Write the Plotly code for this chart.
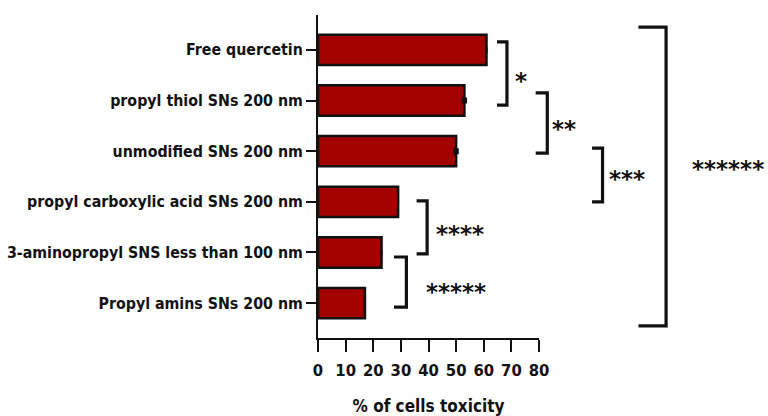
import plotly.graph_objects as go

# Treatments, top to bottom
groups = [
    "Free quercetin",
    "propyl thiol SNs 200 nm",
    "unmodified SNs 200 nm",
    "propyl carboxylic acid SNs 200 nm",
    "3-aminopropyl SNS less than 100 nm",
    "Propyl amins SNs 200 nm",
]
toxicity = [61, 53, 50, 29, 23, 17]
toxicity_err = [0, 0.6, 0.6, 0, 0, 0]
x_ticks = [0, 10, 20, 30, 40, 50, 60, 70, 80]

# Significance brackets: (top index, bottom index, spine x in % units, label)
brackets = [
    (-0.16, 1.09, 68.4, "*"),
    (0.85, 2.04, 83.0, "**"),
    (1.94, 3.00, 103.0, "***"),
    (2.98, 4.03, 39.5, "****"),
    (4.09, 5.08, 32.0, "*****"),
    (-0.45, 5.45, 126.0, "******"),
]
label_pos = [(73.5, 0.53), (89.0, 1.48), (112.0, 2.47), (51.5, 3.56), (50.0, 4.70), (148.5, 2.27)]
arm_len = [3.6, 4.2, 3.8, 3.8, 4.5, 10.0]

X_MAX = 80
LABEL_FONT = "DejaVu Sans Condensed, Liberation Sans Narrow, Arial Narrow, sans-serif"

fig = go.Figure(
    go.Bar(
        y=groups,
        x=toxicity,
        orientation="h",
        width=0.6,
        marker=dict(color="#a30000", line=dict(color="#111111", width=2.5)),
        error_x=dict(type="data", array=toxicity_err, visible=True,
                     color="#111111", thickness=2, width=3),
    )
)

shapes = []
annotations = []
for (y0, y1, xs, text), (lx, ly), arm in zip(brackets, label_pos, arm_len):
    px = xs / X_MAX
    pa = (xs - arm) / X_MAX
    shapes.append(dict(
        type="path", xref="paper", yref="y",
        path=f"M {pa},{y0} L {px},{y0} L {px},{y1} L {pa},{y1}",
        line=dict(color="#111111", width=3.2),
    ))
    annotations.append(dict(
        x=lx / X_MAX, y=ly, xref="paper", yref="y", text=text,
        showarrow=False, xanchor="center", yanchor="middle", yshift=-4,
        font=dict(family="DejaVu Sans, sans-serif", size=23, color="#111111", weight="bold"),
    ))

fig.update_layout(
    width=768, height=416,
    margin=dict(l=318, r=229, t=15, b=78, autoexpand=False),
    paper_bgcolor="white", plot_bgcolor="white",
    showlegend=False,
    bargap=0.4,
    shapes=shapes,
    annotations=annotations,
    xaxis=dict(
        range=[0, X_MAX], tickvals=x_ticks, ticktext=[str(v) for v in x_ticks],
        tickangle=0, automargin=False, ticklabelstandoff=4,
        showgrid=False, zeroline=False, showline=True, linecolor="#111111", linewidth=2,
        ticks="outside", ticklen=12, tickwidth=2, tickcolor="#111111",
        tickfont=dict(family=LABEL_FONT, size=16.5, color="#111111", weight="bold"),
        title=dict(text="% of cells toxicity", standoff=21,
                   font=dict(family=LABEL_FONT, size=17, color="#111111", weight="bold")),
        fixedrange=True,
    ),
    yaxis=dict(
        type="category", categoryorder="array", categoryarray=groups,
        range=[5.69, -0.69], automargin=False,
        showgrid=False, zeroline=False, showline=True, linecolor="#111111", linewidth=2,
        ticks="outside", ticklen=10, tickwidth=2, tickcolor="#111111",
        tickfont=dict(family=LABEL_FONT, size=15.8, color="#111111", weight="bold"),
        fixedrange=True,
    ),
)

fig.write_html("out.html")
